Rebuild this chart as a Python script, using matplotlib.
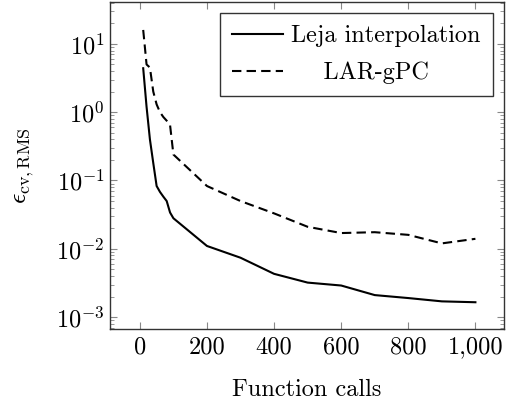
import numpy as np
import matplotlib
matplotlib.use("Agg")
import matplotlib.pyplot as plt
from matplotlib.ticker import FixedLocator, FuncFormatter, LogLocator

plt.rcParams['font.family'] = 'serif'
plt.rcParams['font.serif'] = ['cmr10', 'DejaVu Serif']
plt.rcParams['mathtext.fontset'] = 'cm'
plt.rcParams['axes.formatter.use_mathtext'] = True

# data
calls = [10, 20, 30, 40, 50, 60, 70, 80, 90, 100,
         200, 300, 400, 500, 600, 700, 800, 900, 1000]
leja = [4.4, 1.2, 0.4, 0.18, 0.083, 0.068, 0.058, 0.05, 0.034, 0.028,
        0.011, 0.0074, 0.0043, 0.0032, 0.0029, 0.0021, 0.0019, 0.0017, 0.00165]
lar = [16.0, 5.0, 4.5, 2.0, 1.3, 1.0, 0.85, 0.75, 0.65, 0.24,
       0.083, 0.05, 0.033, 0.021, 0.017, 0.0175, 0.016, 0.012, 0.014]
labels = ['Leja interpolation', '    LAR-gPC']

fs = 17.5

fig = plt.figure(figsize=(5.08, 4.05), dpi=100)
ax = fig.add_axes([0.2165, 0.1877, 0.7755, 0.8073])

ax.plot(calls, leja, color='black', lw=1.5, label=labels[0])
ax.plot(calls, lar, color='black', lw=1.5, ls=(0, (4.5, 2.5)), label=labels[1])

ax.set_yscale('log')
ax.set_xlim(-89, 1085)
ax.set_ylim(6.7e-4, 41)

ax.xaxis.set_major_locator(FixedLocator([0, 200, 400, 600, 800, 1000]))
ax.xaxis.set_major_formatter(FuncFormatter(lambda v, p: f"{int(v):,}"))
ax.yaxis.set_major_locator(LogLocator(base=10, numticks=10))
ax.yaxis.set_minor_locator(LogLocator(base=10, subs=np.arange(2, 10), numticks=20))

ax.tick_params(which='both', direction='in', top=True, right=True,
               color='#888888', labelsize=fs)
ax.tick_params(which='major', length=5)
ax.tick_params(which='minor', length=3)
ax.tick_params(axis='x', pad=5)
ax.tick_params(axis='y', pad=4)
for s in ax.spines.values():
    s.set_linewidth(1.0)
    s.set_color('#333333')

ax.set_xlabel('Function calls', fontsize=fs, labelpad=15)
ax.set_ylabel(r'$\epsilon_{\mathrm{cv,RMS}}$', fontsize=fs + 1, labelpad=14)

leg = ax.legend(loc='upper right', fontsize=fs, frameon=True, fancybox=False,
                edgecolor='black', handlelength=2.1, borderaxespad=0.45,
                handletextpad=0.35, borderpad=0.5, labelspacing=0.6)
leg.get_frame().set_linewidth(1.0)

fig.savefig('out.png', dpi=100)
